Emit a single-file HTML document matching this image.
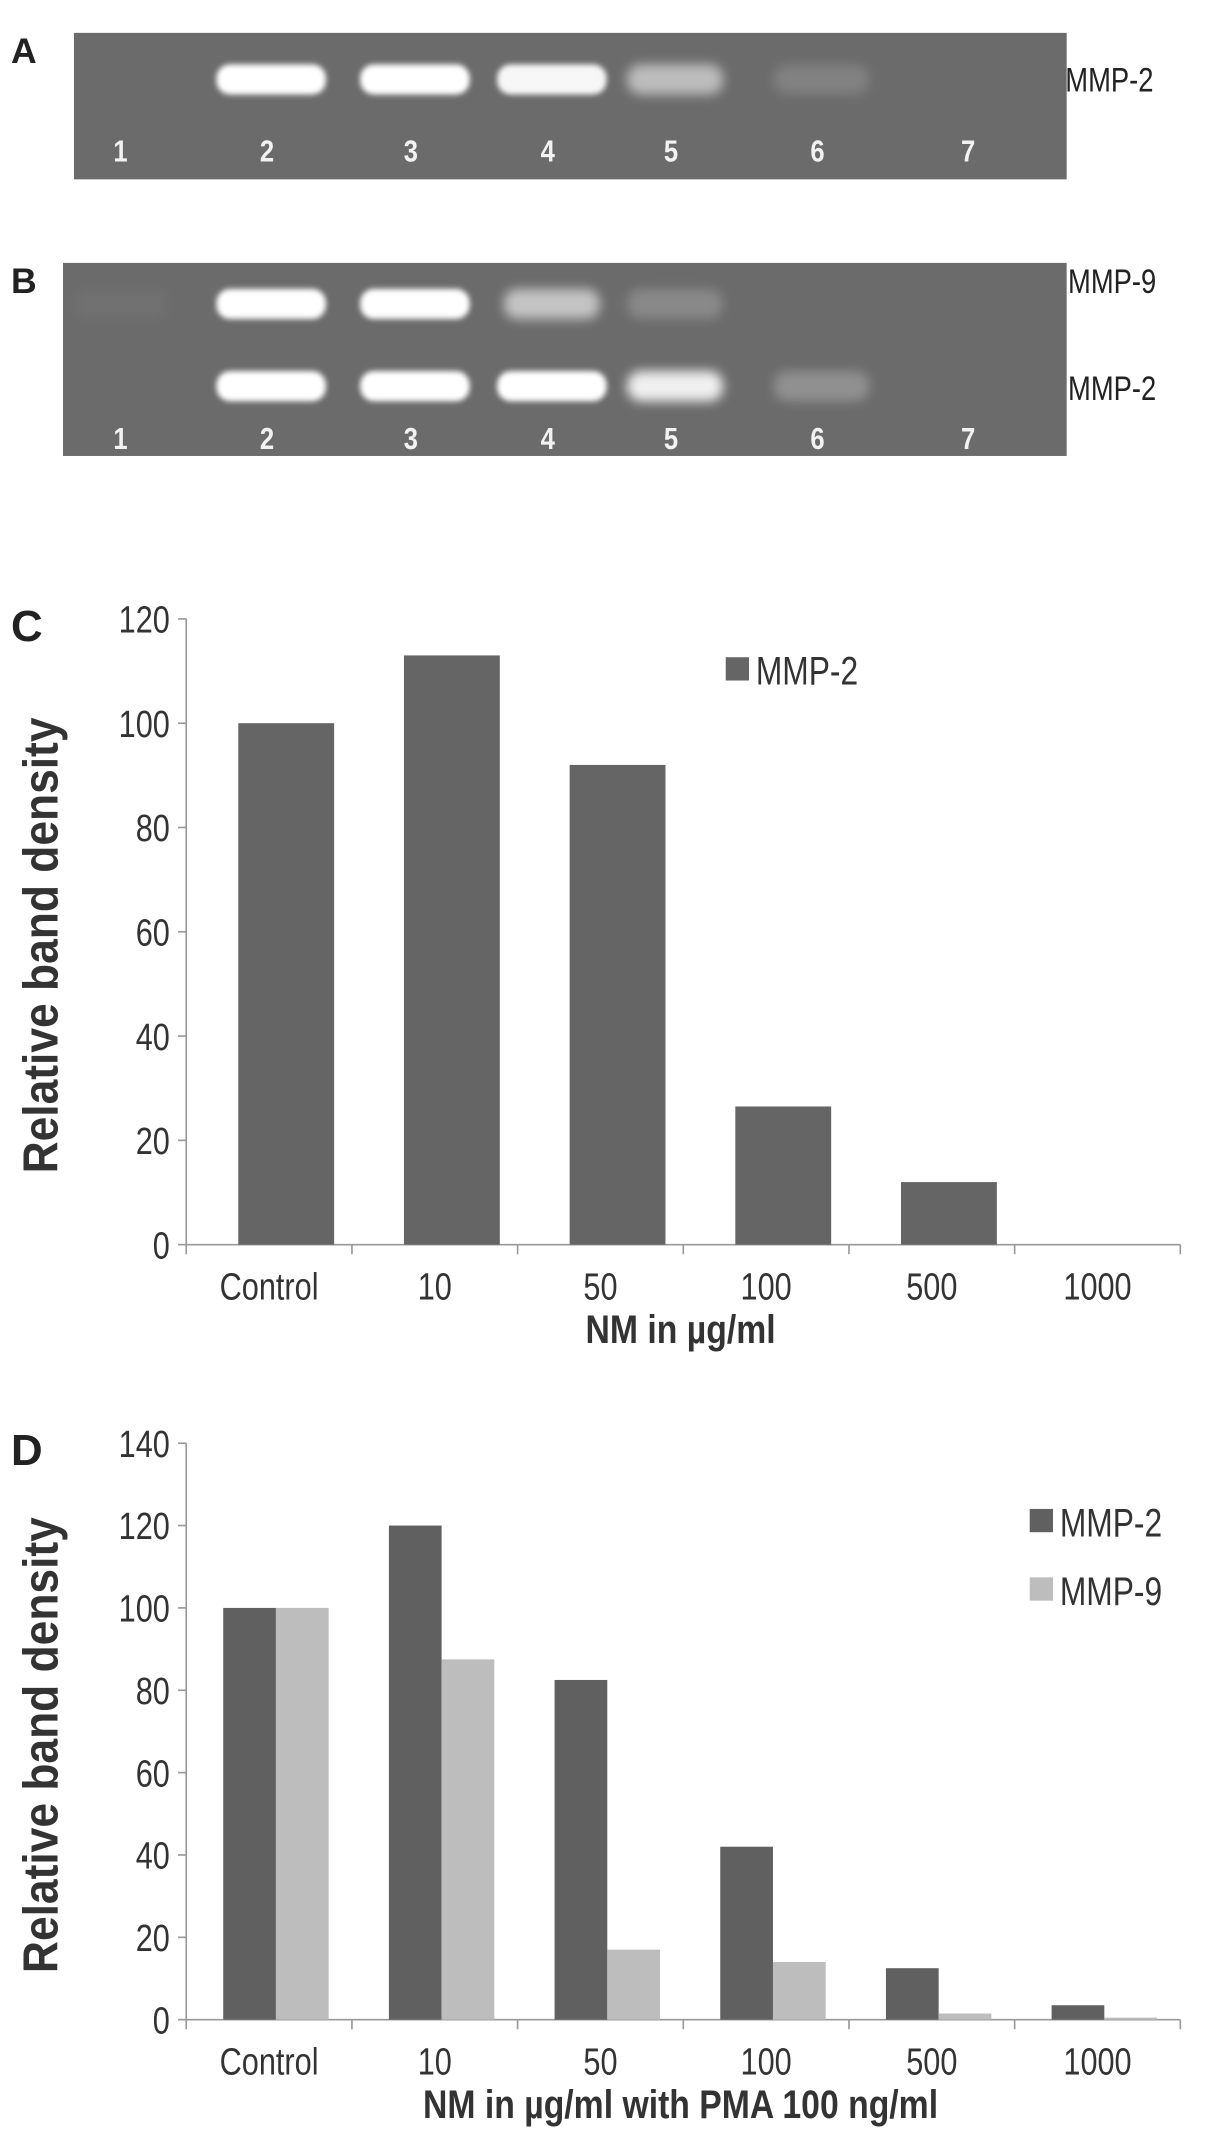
<!DOCTYPE html>
<html><head><meta charset="utf-8"><style>
html,body{margin:0;padding:0;background:#fff}
svg{display:block}
text{font-family:"Liberation Sans",sans-serif}
.b{font-family:"Liberation Sans",sans-serif;font-weight:bold}
</style></head><body>
<svg id="fig" width="1205" height="2147" viewBox="0 0 880 1568" xmlns="http://www.w3.org/2000/svg">
<defs>
<filter id="blur" x="-30%" y="-100%" width="160%" height="300%"><feGaussianBlur stdDeviation="4"/></filter>
<filter id="blur2" x="-30%" y="-100%" width="160%" height="300%"><feGaussianBlur stdDeviation="2"/></filter>
</defs>
<g id="gels"></g>
<g id="chartC"></g>
<g id="chartD"></g>
</svg>
<script>
const NS='http://www.w3.org/2000/svg';
function el(tag,attrs,parent,txt){const e=document.createElementNS(NS,tag);for(const k in attrs)e.setAttribute(k,attrs[k]);if(txt!==undefined)e.textContent=txt;parent.appendChild(e);return e;}
function ntext(x,y,size,anchor,fill,parent,txt,sx,cls){
  const a={x:0,y:0,'font-size':size,fill:fill,'text-anchor':anchor,transform:'translate('+x+','+y+') scale('+(sx||0.82)+',1)'};
  if(cls)a['class']=cls;
  return el('text',a,parent,txt);
}

// ---- Gels ----
const laneLabels=['1','2','3','4','5','6','7'];
const laneX=[88,195,300,400,490,597,707];
const gelA_mmp2=[0,1,1,0.95,0.55,0.15,0];
const gelB_mmp9=[0.04,1,1,0.6,0.2,0,0];
const gelB_mmp2=[0,1,1,1,0.9,0.25,0];
const gels=document.getElementById('gels');
function gel(name,x,y,w,h,letter,bands,numY){
  const g=el('g',{},gels);
  
  
  el('rect',{x:x,y:y,width:w,height:h,fill:'#6b6b6b'},g);
  bands.forEach(b=>{
    b.vals.forEach((v,i)=>{
      if(v<=0)return;
      const bw=v>0.9?80:70;
      const r=el('rect',{x:laneX[i]-bw/2+(i>=1?3:0),y:b.y-11,width:bw,height:22,rx:10,fill:'#fff',opacity:Math.min(1,v),filter:v>0.9?'url(#blur2)':'url(#blur)'},g);
      
      
    });
  });
  laneLabels.forEach((l,i)=>{
    const t=ntext(laneX[i],numY,22,'middle','#f2f2f2',g,l,0.85,'b');
    
    
  });
  const L=el('text',{x:8,y:y+22,'font-size':'26',class:'b',fill:'#222'},gels,letter);
  
  
}
gel('gel-a',54,24,725,107,'A',[{name:'mmp2',y:58,vals:gelA_mmp2}],118);
gel('gel-b',46,192,733,141,'B',[{name:'mmp9',y:222,vals:gelB_mmp9},{name:'mmp2',y:282,vals:gelB_mmp2}],328);
[['MMP-2',778,67,'gel-a-mmp2-label'],['MMP-9',780,214,'gel-b-mmp9-label'],['MMP-2',780,292,'gel-b-mmp2-label']].forEach(a=>{
  const t=ntext(a[1],a[2],25,'start','#222',gels,a[0],0.8);
  
  
});

// ---- Chart C data ----
const categories=['Control','10','50','100','500','1000'];
const cMMP2=[100,113,92,26.5,12,0];
const cTicks=[0,20,40,60,80,100,120];
// ---- Chart D data ----
const dMMP2=[100,120,82.5,42,12.5,3.5];
const dMMP9=[100,87.5,17,14,1.5,0.5];
const dTicks=[0,20,40,60,80,100,120,140];

function chart(gid,cfg){
  const g=document.getElementById(gid);
  
  
  const x0=136,x1=862,y0=cfg.y0,yT=cfg.yTop,max=cfg.max;
  const ys=v=>y0-(v/max)*(y0-yT);
  const cw=(x1-x0)/categories.length;
  const ya=el('line',{x1:x0,y1:yT,x2:x0,y2:y0,stroke:'#999','stroke-width':1.2},g);
  
  const xa=el('line',{x1:x0,y1:y0,x2:x1,y2:y0,stroke:'#999','stroke-width':1.2},g);
  
  cfg.ticks.forEach(t=>{
    el('line',{x1:x0-6,y1:ys(t),x2:x0,y2:ys(t),stroke:'#999','stroke-width':1.2},g);
    const tl=ntext(x0-12,ys(t)+10,28,'end','#333',g,String(t),0.8);
    
  });
  for(let i=0;i<=categories.length;i++){
    el('line',{x1:x0+i*cw,y1:y0,x2:x0+i*cw,y2:y0+7,stroke:'#999','stroke-width':1.2},g);
  }
  categories.forEach((c,i)=>{
    const tl=ntext(x0+cw*(i+0.5),y0+40,28,'middle','#333',g,c,0.8);
    
  });
  cfg.series.forEach((s,si)=>{
    s.vals.forEach((v,i)=>{
      const bx=x0+cw*i+cfg.offset+si*cfg.bw;
      const r=el('rect',{x:bx,y:ys(v),width:cfg.bw,height:y0-ys(v),fill:s.color},g);
      
      
    });
    const lx=cfg.legX,ly=cfg.legY+si*50;
    const sq=el('rect',{x:lx,y:ly-10,width:17,height:17,fill:s.color},g);
    
    const lt=ntext(lx+22,ly+10,29,'start','#333',g,s.label,0.8);
    
  });
  const L=el('text',{x:8,y:yT+16,'font-size':'32',class:'b',fill:'#222'},g,cfg.letter);
  
  const yt=el('text',{x:0,y:0,'font-size':'36',class:'b',fill:'#333','text-anchor':'middle',transform:'translate(42,'+((y0+yT)/2+10)+') rotate(-90) scale(0.9,1)'},g,'Relative band density');
  
  const xt=ntext(cfg.xtX,y0+72,29,'middle','#333',g,cfg.xtitle,0.85,'b');
  
}
chart('chartC',{name:'chart-c',letter:'C',y0:909,yTop:452,max:120,ticks:cTicks,bw:70,offset:38,
  series:[{name:'mmp2',label:'MMP-2',vals:cMMP2,color:'#656565'}],legX:530,legY:490,xtitle:'NM in µg/ml',xtX:497});
chart('chartD',{name:'chart-d',letter:'D',y0:1475,yTop:1054,max:140,ticks:dTicks,bw:38.5,offset:27,
  series:[{name:'mmp2',label:'MMP-2',vals:dMMP2,color:'#606060'},{name:'mmp9',label:'MMP-9',vals:dMMP9,color:'#bdbdbd'}],legX:752,legY:1112,xtitle:'NM in µg/ml with PMA 100 ng/ml',xtX:497});
</script>
</body></html>
